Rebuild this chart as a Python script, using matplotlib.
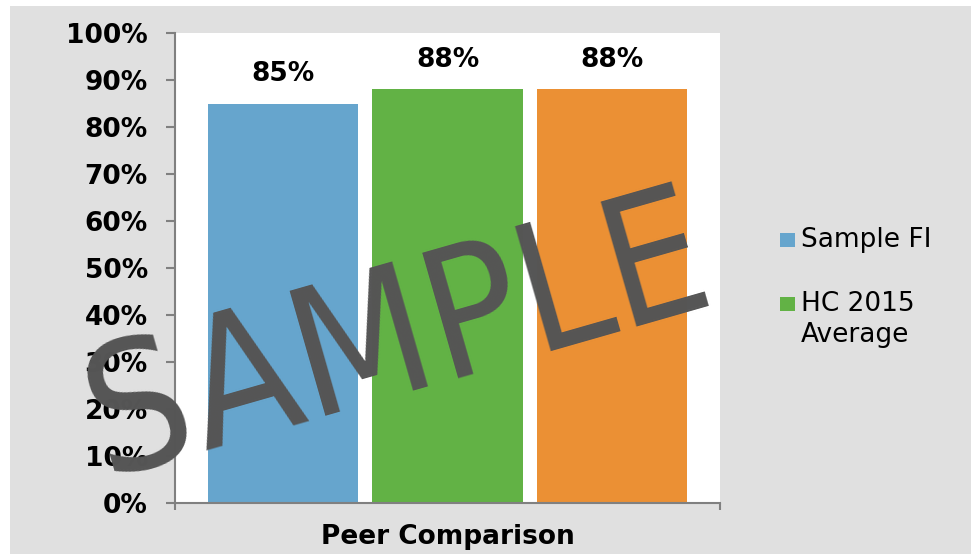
"""
Peer comparison bar chart with a SAMPLE watermark.
"""

import matplotlib
matplotlib.use("Agg")
import matplotlib.pyplot as plt
from matplotlib.patches import Rectangle
from matplotlib.ticker import FuncFormatter

# Data
SERIES = ["Sample FI", "HC 2015 Average", "Peer Group"]
VALUES = [0.85, 0.88, 0.88]
LABELS = ["85%", "88%", "88%"]
COLORS = ["#66a5cd", "#62b245", "#eb9034"]
LEGEND_LABELS = ["Sample FI", "HC 2015\nAverage"]  # third entry is cut off in the original
Y_TICKS = [i / 10 for i in range(11)]
CATEGORY = "Peer Comparison"

BG = "#e0e0e0"
AXIS = "#808080"
FONT = 19


def main() -> None:
    fig = plt.figure(figsize=(9.71, 5.54), dpi=100, facecolor="white")

    # grey chart area with a thin white margin at top and left
    fig.patches.append(Rectangle((10 / 971, 0), 1, 1 - 6 / 554,
                                 transform=fig.transFigure, facecolor=BG,
                                 edgecolor="none", zorder=-5))

    ax = fig.add_axes([175 / 971, 51 / 554, 545 / 971, 470 / 554])
    ax.set_facecolor("white")

    xs = list(range(len(VALUES)))
    ax.bar(xs, VALUES, width=151 / 165, color=COLORS, zorder=2)

    for x, v, lab in zip(xs, VALUES, LABELS):
        ax.annotate(lab, (x, v), xytext=(0, 16), textcoords="offset points",
                    ha="center", va="baseline", fontsize=FONT, fontweight="bold")

    ax.set_ylim(0, 1)
    ax.set_xlim(-0.66, 2.66)
    ax.set_yticks(Y_TICKS)
    ax.yaxis.set_major_formatter(FuncFormatter(lambda v, _: f"{v:.0%}"))
    ax.set_xticks([-0.66, 2.66])
    ax.set_xticklabels(["", ""])
    for lab in ax.get_yticklabels():
        lab.set_fontweight("bold")

    ax.tick_params(axis="y", length=6.5, width=1.5, color=AXIS, labelsize=FONT, pad=13)
    ax.tick_params(axis="x", length=5, width=1.5, color=AXIS)
    for side in ("top", "right"):
        ax.spines[side].set_visible(False)
    for side in ("left", "bottom"):
        ax.spines[side].set_color(AXIS)
        ax.spines[side].set_linewidth(1.5)

    fig.text(447.5 / 971, 1 - 537 / 554, CATEGORY, ha="center", va="center",
             fontsize=FONT, fontweight="bold")

    # legend (only two entries are visible in the original)
    rows_y = [240, 304]
    for y, lab, col in zip(rows_y, LEGEND_LABELS, COLORS):
        fig.patches.append(Rectangle((780 / 971, 1 - (y + 7) / 554), 15 / 971, 14 / 554,
                                     transform=fig.transFigure, facecolor=col,
                                     edgecolor="none"))
        fig.text(801 / 971, 1 - (y - 13) / 554, lab, ha="left", va="top",
                 fontsize=FONT, linespacing=1.25)

    # watermark
    fig.text(398 / 971, 1 - 340 / 554, "SAMPLE", ha="center", va="center",
             rotation=16, rotation_mode="anchor", fontsize=128,
             fontstretch="condensed", color="#555555", zorder=10)

    fig.savefig("out.png", dpi=100, facecolor=fig.get_facecolor())
    plt.close(fig)


if __name__ == "__main__":
    main()
